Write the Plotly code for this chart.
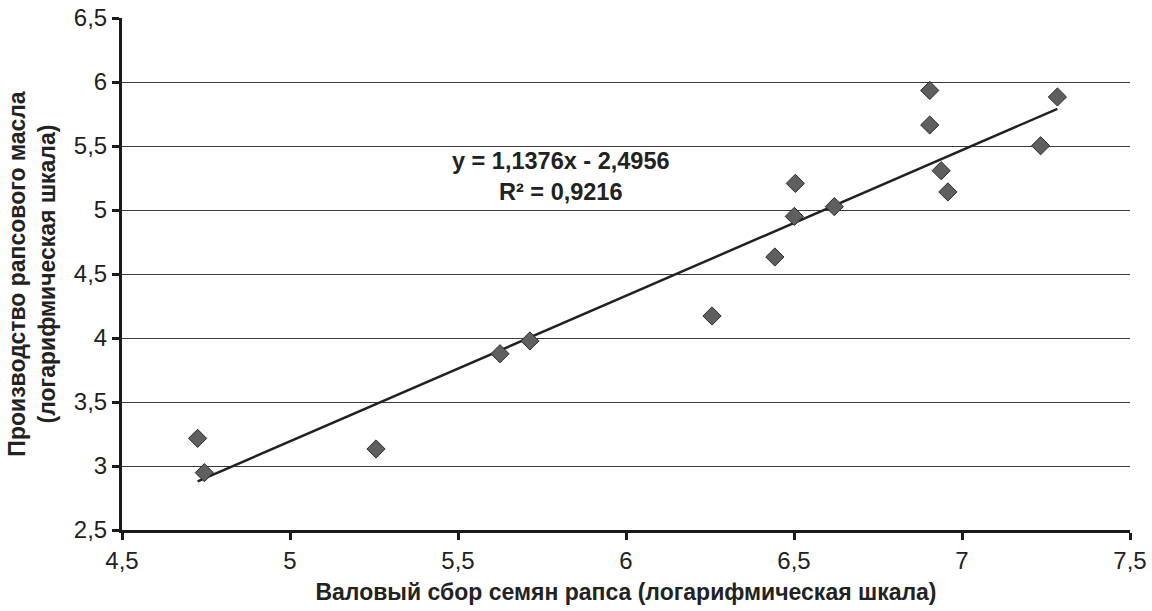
import numpy as np
import plotly.graph_objects as go

x_vals = [4.725, 4.745, 5.256, 5.625, 5.714, 6.256, 6.443, 6.504, 6.501, 6.620,
          6.904, 6.904, 6.938, 6.958, 7.234, 7.284]
y_vals = [3.216, 2.948, 3.133, 3.877, 3.977, 4.172, 4.633, 5.208, 4.950, 5.026,
          5.934, 5.664, 5.307, 5.141, 5.502, 5.883]
slope = 1.1376
intercept = -2.4956
r2 = 0.9216

tick_vals = [2.5, 3, 3.5, 4, 4.5, 5, 5.5, 6, 6.5]
tick_text = ["2,5", "3", "3,5", "4", "4,5", "5", "5,5", "6", "6,5"]
xtick_vals = [4.5, 5, 5.5, 6, 6.5, 7, 7.5]
xtick_text = ["4,5", "5", "5,5", "6", "6,5", "7", "7,5"]

x_title = "Валовый сбор семян рапса (логарифмическая шкала)"
y_title = "Производство рапсового масла<br>(логарифмическая шкала)"

trend_x = np.array([min(x_vals), max(x_vals)])
trend_y = slope * trend_x + intercept

FONT = "Liberation Sans, Arial"

fig = go.Figure()
fig.add_trace(go.Scatter(x=trend_x, y=trend_y, mode="lines",
                         line=dict(color="#222222", width=2.5), showlegend=False,
                         hoverinfo="skip"))
fig.add_trace(go.Scatter(x=x_vals, y=y_vals, mode="markers",
                         marker=dict(symbol="diamond", size=14, color="#5f5f5f",
                                     line=dict(color="#2a2a2a", width=1)),
                         showlegend=False))

fmt = lambda v: f"{v:.4f}".replace(".", ",")
fig.add_annotation(x=5.807, y=5.26, xref="x", yref="y", showarrow=False,
                   text=f"<b>y = {fmt(slope)}x - {fmt(abs(intercept))}</b><br><b>R² = {fmt(r2)}</b>",
                   font=dict(family=FONT, size=23.5, color="#222222"),
                   align="center")

fig.update_layout(
    width=1152, height=611,
    margin=dict(l=122, r=22, t=18, b=81, autoexpand=False),
    plot_bgcolor="white", paper_bgcolor="white",
    font=dict(family=FONT, size=24, color="#222222"),
    xaxis=dict(range=[4.5, 7.5], tickvals=xtick_vals, ticktext=xtick_text,
               showgrid=False, zeroline=False, showline=True, linecolor="#1a1a1a",
               linewidth=3, ticks="outside", ticklen=7, tickwidth=3, tickcolor="#1a1a1a",
               automargin=False, ticklabeloverflow="allow",
               title=dict(text=f"<b>{x_title}</b>", font=dict(size=23), standoff=12)),
    yaxis=dict(range=[2.5, 6.5], tickvals=tick_vals, ticktext=tick_text,
               showgrid=True, gridcolor="#3a3a3a", gridwidth=1.3, zeroline=False,
               showline=True, linecolor="#1a1a1a", linewidth=3,
               ticks="outside", ticklen=7, tickwidth=3, tickcolor="#1a1a1a",
               automargin=True, ticklabeloverflow="allow",
               title=dict(text=f"<b>{y_title}</b>", font=dict(size=23), standoff=12)),
)
fig.write_html("out.html", config={"displayModeBar": False},
               post_script="document.body.style.margin='0';")
